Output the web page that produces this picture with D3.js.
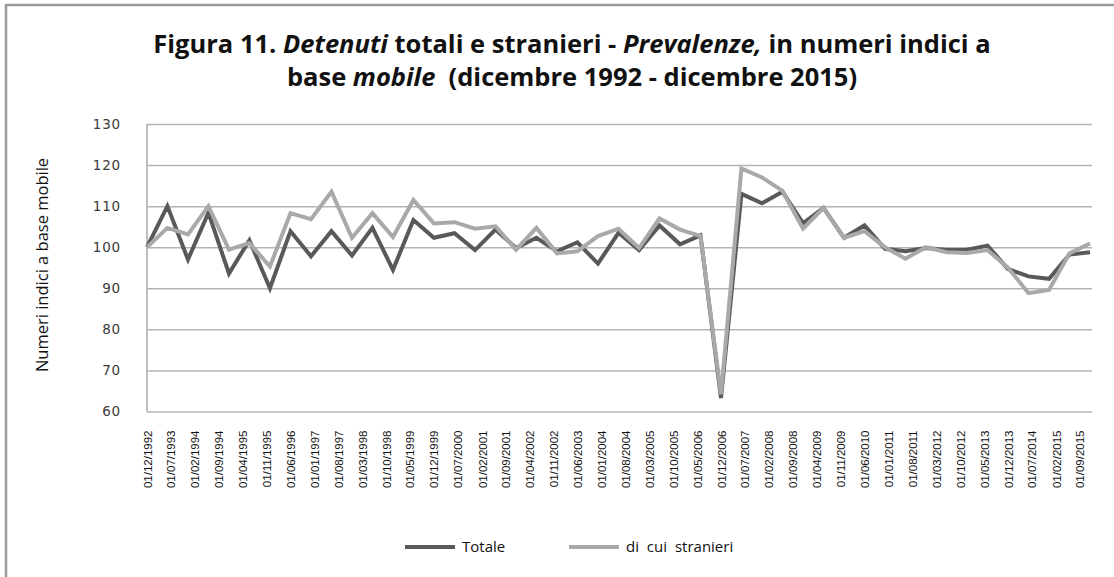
<!DOCTYPE html>
<html lang="it">
<head>
<meta charset="utf-8">
<title>Figura 11</title>
<script src="https://d3js.org/d3.v7.min.js"></script>
<style>
  body { margin: 0; background: #fff; }
  .grid line { stroke: #b4b4b4; stroke-width: 1.5; }
  .grid path { display: none; }
  .yaxis text { font-family: "DejaVu Sans"; font-size: 13.5px; fill: #3a3a3a; letter-spacing: 0.8px; }
  .xaxis text { font-family: "Liberation Sans"; font-size: 11.5px; fill: #111; }
  .title { font-family: "Open Sans"; font-weight: bold; font-size: 25.5px; fill: #111; }
  .label { font-family: "Open Sans"; font-size: 15px; fill: #111; }
  .ylabel { font-family: "Open Sans"; font-size: 16.5px; fill: #111; }
</style>
</head>
<body>
<script>
// semestral periods (mm/yyyy)
var periods = ["12/1992","06/1993","12/1993","06/1994","12/1994","06/1995","12/1995","06/1996","12/1996","06/1997",
  "12/1997","06/1998","12/1998","06/1999","12/1999","06/2000","12/2000","06/2001","12/2001","06/2002",
  "12/2002","06/2003","12/2003","06/2004","12/2004","06/2005","12/2005","06/2006","12/2006","06/2007",
  "12/2007","06/2008","12/2008","06/2009","12/2009","06/2010","12/2010","06/2011","12/2011","06/2012",
  "12/2012","06/2013","12/2013","06/2014","12/2014","06/2015","12/2015"];

var totale = [100, 110, 97, 108.4, 93.6, 101.7, 90, 103.9, 97.8, 103.9,
  98, 104.7, 94.5, 106.6, 102.3, 103.4, 99.3, 104.3, 99.8, 102.3,
  99, 101.2, 96, 103.5, 99.3, 105.3, 100.7, 102.9, 63.3, 113,
  110.7, 113.5, 105.8, 109.6, 102.3, 105.3, 99.6, 99, 99.8, 99.3,
  99.4, 100.4, 94.7, 92.9, 92.3, 98.2, 98.8];

var stranieri = [100, 104.7, 103.1, 110, 99.4, 101, 95.3, 108.3, 106.8, 113.5,
  102.3, 108.3, 102.5, 111.5, 105.8, 106.1, 104.5, 105.1, 99.4, 104.7,
  98.5, 99, 102.7, 104.5, 99.8, 107, 104.3, 102.7, 64.2, 119.2,
  117, 113.7, 104.5, 109.6, 102.3, 103.9, 100, 97.2, 100, 98.8,
  98.6, 99.3, 95, 88.8, 89.6, 98.5, 100.9];

var tickLabels = ["01/12/1992","01/07/1993","01/02/1994","01/09/1994","01/04/1995","01/11/1995","01/06/1996","01/01/1997",
  "01/08/1997","01/03/1998","01/10/1998","01/05/1999","01/12/1999","01/07/2000","01/02/2001","01/09/2001",
  "01/04/2002","01/11/2002","01/06/2003","01/01/2004","01/08/2004","01/03/2005","01/10/2005","01/05/2006",
  "01/12/2006","01/07/2007","01/02/2008","01/09/2008","01/04/2009","01/11/2009","01/06/2010","01/01/2011",
  "01/08/2011","01/03/2012","01/10/2012","01/05/2013","01/12/2013","01/07/2014","01/02/2015","01/09/2015"];

var yTicks = [60, 70, 80, 90, 100, 110, 120, 130];

var w = 1114, h = 577;
var plotLeft = 147, plotRight = 1092, plotTop = 124, plotBottom = 411.5;

var parsePeriod = d3.timeParse("%m/%Y");
var parseTick = d3.timeParse("%d/%m/%Y");
var dates = periods.map(parsePeriod);

var svg = d3.select("body").append("svg")
  .attr("width", w)
  .attr("height", h);

// outer frame
svg.append("rect")
  .attr("x", 6).attr("y", 5)
  .attr("width", w + 20).attr("height", h + 20)
  .attr("fill", "none")
  .attr("stroke", "#9a9a9a")
  .attr("stroke-width", 2.5);

var xScale = d3.scaleTime()
  .domain([dates[0], dates[dates.length - 1]])
  .range([plotLeft, 1090]);

var yScale = d3.scaleLinear()
  .domain([60, 130])
  .range([plotBottom, plotTop]);

// gridlines
svg.append("g")
  .attr("class", "grid")
  .attr("transform", "translate(" + plotLeft + ",0)")
  .call(d3.axisRight(yScale).tickValues(yTicks).tickFormat("").tickSize(plotRight - plotLeft));

// y axis line
svg.append("line")
  .attr("x1", plotLeft).attr("x2", plotLeft)
  .attr("y1", plotTop).attr("y2", plotBottom)
  .attr("stroke", "#a8a8a8").attr("stroke-width", 1.5);

// y tick labels
var yAxis = svg.append("g")
  .attr("class", "yaxis")
  .attr("transform", "translate(" + (plotLeft - 23) + ",0)")
  .call(d3.axisLeft(yScale).tickValues(yTicks).tickSize(0));
yAxis.select(".domain").remove();

// x tick labels
var xAxis = svg.append("g")
  .attr("class", "xaxis")
  .attr("transform", "translate(0," + plotBottom + ")")
  .call(d3.axisBottom(xScale).tickValues(tickLabels.map(parseTick)).tickSize(0)
    .tickFormat(function(d, i) { return tickLabels[i]; }));
xAxis.select(".domain").remove();
xAxis.selectAll("text")
  .attr("transform", "rotate(-90)")
  .attr("x", -19)
  .attr("y", 0)
  .attr("dy", "0.35em")
  .style("text-anchor", "end");

var line = d3.line()
  .x(function(d, i) { return xScale(dates[i]); })
  .y(function(d) { return yScale(d); });

var series = [
  { name: "Totale", values: totale, color: "#595959" },
  { name: "di cui stranieri", values: stranieri, color: "#a9a9a9" }
];

svg.selectAll("path.serie")
  .data(series)
  .enter()
  .append("path")
  .attr("class", "serie")
  .attr("d", function(d) { return line(d.values); })
  .attr("fill", "none")
  .attr("stroke", function(d) { return d.color; })
  .attr("stroke-width", 4)
  .attr("stroke-linejoin", "miter")
  .attr("stroke-miterlimit", 3);

// title
svg.append("text")
  .attr("class", "title")
  .attr("x", 572).attr("y", 53)
  .attr("text-anchor", "middle")
  .html("Figura 11. <tspan font-style='italic'>Detenuti</tspan> totali e stranieri - <tspan font-style='italic'>Prevalenze,</tspan> in numeri indici a");
svg.append("text")
  .attr("class", "title")
  .attr("x", 572).attr("y", 86)
  .attr("text-anchor", "middle")
  .attr("xml:space", "preserve")
  .html("base <tspan font-style='italic'>mobile</tspan>  (dicembre 1992 - dicembre 2015)");

// y axis title
svg.append("text")
  .attr("class", "ylabel")
  .attr("transform", "translate(48,265) rotate(-90)")
  .attr("text-anchor", "middle")
  .text("Numeri indici a base mobile");

// legend
var legend = svg.append("g").attr("transform", "translate(405,547)");
var lx = [0, 164];
series.forEach(function(s, i) {
  legend.append("line")
    .attr("x1", lx[i]).attr("x2", lx[i] + 50)
    .attr("y1", 0).attr("y2", 0)
    .attr("stroke", s.color).attr("stroke-width", 4);
  legend.append("text")
    .attr("class", "label")
    .attr("x", lx[i] + 57).attr("y", 5)
    .attr("word-spacing", i === 1 ? "4px" : null)
    .text(s.name);
});
</script>
</body>
</html>
